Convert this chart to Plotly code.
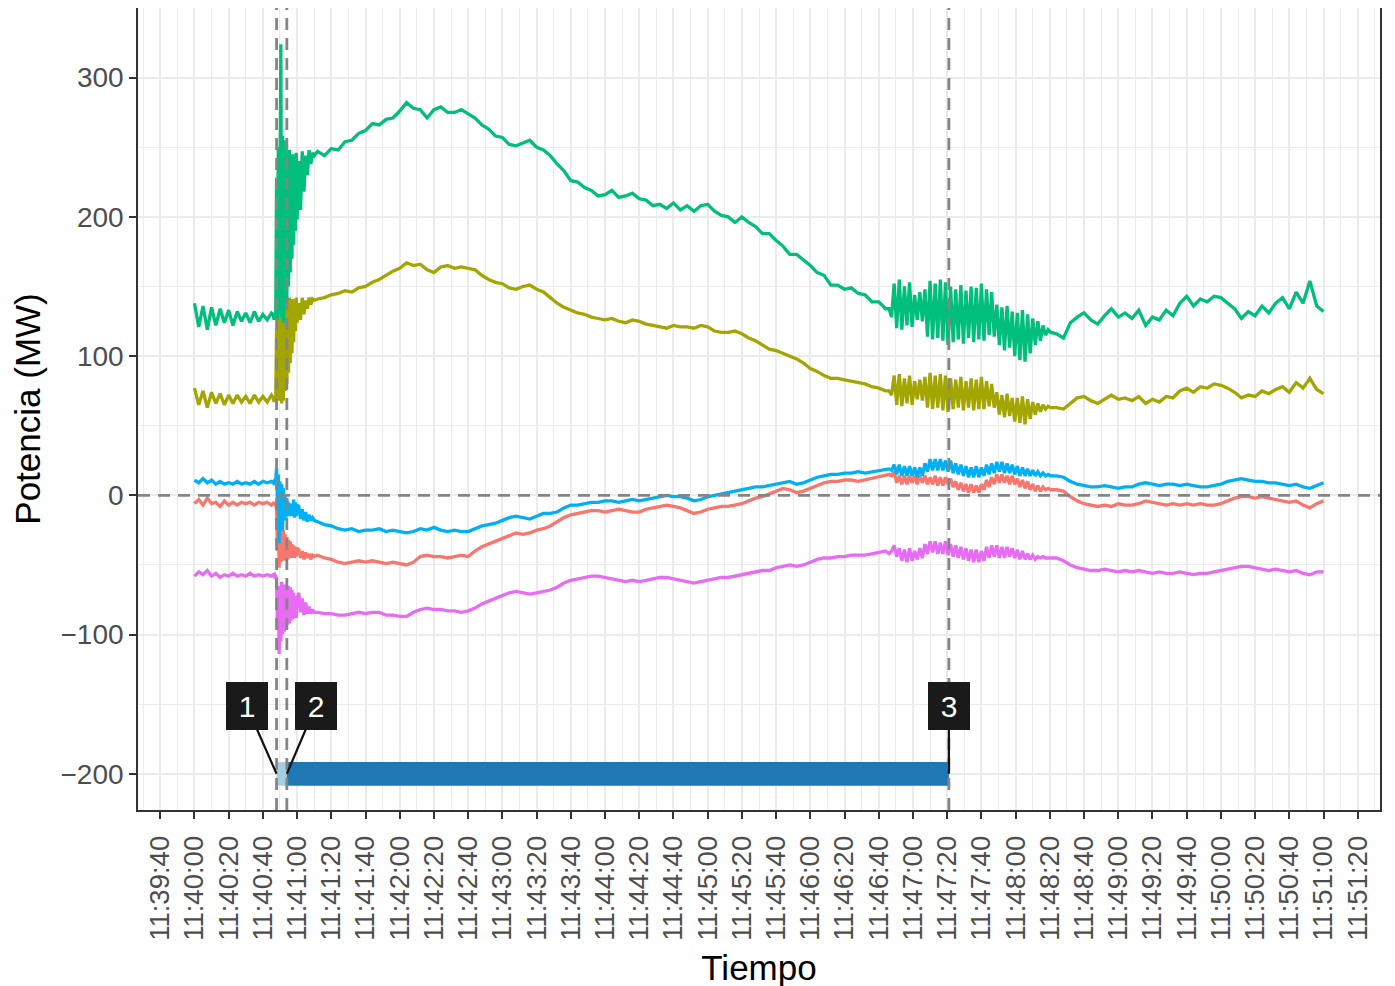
import numpy as np
import pandas as pd
import plotly.graph_objects as go

# ---------------- data ----------------
BASE = pd.Timestamp("2021-01-01 11:40:00")

# sampling times (seconds after 11:40:00), one block per segment of the record
t_a = np.arange(0, 45.01, 2.5)      # 19 pre-event
t_b = np.arange(46, 60.01, 0.5)     # 29 event
t_c = np.arange(61, 70.01, 1.0)     # 10
t_d = np.arange(72, 404.01, 4.0)    # 84
t_e = np.arange(406, 501, 1.5)      # 64 oscillation window
t_f = np.arange(504, 660.01, 4.0)   # 40

green = (
    [138, 121, 136, 119, 135, 122, 134, 124, 133, 122, 132, 125, 131, 124, 132, 125, 130, 126, 131]
    + [130, 126, 131, 127, 228, 126, 250, 130, 240, 324, 128, 258, 124, 255, 135, 250, 140, 245, 150, 248,
       160, 244, 170, 245, 180, 242, 190, 246, 198]
    + [240, 205, 247, 218, 244, 230, 248, 238, 246, 244]
    + [247, 244, 249, 248, 254, 255, 260, 262, 267, 266, 270, 271,
       276, 282, 278, 277, 271, 277, 279, 275, 275, 277, 274, 271,
       266, 263, 258, 257, 252, 251, 253, 255, 250, 248, 244, 238,
       233, 226, 225, 221, 219, 215, 216, 219, 214, 215, 217, 213,
       212, 208, 209, 206, 210, 205, 208, 204, 208, 209, 204, 201,
       200, 196, 200, 196, 193, 188, 188, 183, 179, 173, 173, 169,
       165, 160, 158, 151, 151, 148, 149, 145, 144, 139, 139, 134]
    + [134, 128, 152, 120, 155, 119, 150, 122,
       153, 121, 144, 126, 146, 125, 148, 114,
       154, 112, 152, 113, 155, 111, 153, 108,
       150, 110, 148, 112, 151, 109, 147, 113,
       150, 110, 149, 112, 152, 111, 148, 115,
       146, 114, 137, 108, 135, 104, 136, 106,
       132, 100, 131, 97, 133, 96, 130, 102,
       127, 108, 125, 111, 122, 115, 119, 117]
    + [116, 113, 124, 128, 131, 126, 123, 129, 134, 128,
       131, 127, 133, 122, 128, 126, 133, 129, 138, 143,
       136, 141, 139, 143, 142, 138, 134, 127, 132, 129,
       136, 131, 138, 142, 134, 146, 138, 154, 136, 132]
)

olive = (
    [77, 65, 75, 63, 74, 66, 73, 65, 72, 66, 72, 67, 71, 66, 72, 67, 71, 67, 72]
    + [70, 67, 71, 68, 120, 70, 140, 68, 135, 145, 66, 142, 68, 140, 75, 143, 80, 140, 88, 142,
       95, 140, 102, 141, 110, 139, 118, 142, 124]
    + [138, 126, 142, 130, 140, 134, 142, 137, 141, 140]
    + [141, 142, 144, 145, 147, 146, 149, 150, 153, 155, 158, 161,
       163, 167, 165, 166, 162, 160, 164, 165, 163, 164, 163, 162,
       158, 155, 153, 152, 149, 148, 150, 151, 148, 146, 142, 138,
       135, 133, 131, 130, 128, 127, 126, 127, 125, 124, 126, 125,
       123, 122, 121, 120, 122, 121, 121, 120, 122, 121, 118, 117,
       117, 118, 116, 113, 111, 108, 105, 104, 102, 100, 98, 95,
       91, 89, 86, 84, 84, 83, 82, 81, 80, 78, 77, 75]
    + [75, 72, 86, 65, 87, 64, 84, 66,
       86, 65, 82, 69, 83, 68, 85, 63,
       88, 62, 86, 63, 87, 61, 86, 60,
       84, 62, 83, 63, 85, 61, 82, 63,
       84, 61, 83, 62, 85, 62, 82, 64,
       80, 63, 74, 58, 72, 56, 73, 57,
       70, 53, 70, 52, 71, 51, 69, 55,
       67, 58, 66, 60, 65, 62, 64, 63]
    + [63, 62, 66, 70, 71, 68, 66, 69, 72, 69,
       70, 68, 71, 66, 69, 67, 71, 70, 75, 77,
       74, 78, 77, 80, 79, 77, 74, 70, 72, 71,
       75, 73, 76, 78, 74, 81, 77, 84, 76, 73]
)

blue = (
    [11, 9, 12, 9, 11, 8, 10, 8, 9, 8, 10, 8, 9, 8, 10, 8, 10, 9, 10]
    + [9, 10, 9, 10, 20, -5, 15, -34, 10, -20, 8, -25, 5, -18, 0, -16, -2, -15, -5, -14,
       -6, -15, -8, -14, -3, -16, -5, -15, -7]
    + [-8, -17, -10, -18, -12, -19, -14, -18, -16, -18]
    + [-19, -21, -22, -24, -25, -24, -26, -25, -25, -24, -26, -25,
       -26, -27, -26, -24, -25, -23, -25, -26, -25, -26, -26, -24,
       -22, -21, -20, -18, -16, -15, -16, -17, -15, -13, -13, -12,
       -9, -7, -7, -6, -5, -5, -4, -4, -5, -4, -3, -4,
       -3, -2, -1, 0, -1, -1, -2, -4, -3, -1, 0, 1,
       2, 3, 4, 5, 6, 6, 7, 8, 9, 10, 8, 9,
       11, 13, 14, 15, 15, 16, 16, 17, 16, 17, 18, 19]
    + [19, 18, 22, 15, 22, 14, 21, 14,
       21, 14, 20, 13, 20, 14, 23, 17,
       26, 18, 26, 18, 26, 18, 25, 17,
       25, 16, 23, 15, 22, 14, 21, 13,
       20, 13, 21, 13, 20, 14, 22, 15,
       23, 16, 24, 17, 24, 16, 23, 16,
       22, 15, 21, 14, 20, 14, 19, 14,
       18, 14, 17, 14, 16, 14, 15, 14]
    + [14, 13, 10, 8, 7, 6, 6, 7, 6, 5,
       6, 6, 8, 9, 8, 7, 8, 8, 7, 8,
       7, 6, 6, 7, 8, 10, 11, 12, 11, 10,
       10, 9, 9, 8, 7, 8, 6, 5, 7, 9]
)

red = (
    [-6, -3, -7, -2, -6, -5, -8, -4, -7, -5, -7, -5, -6, -5, -7, -5, -6, -5, -7]
    + [-6, -5, -7, -6, -10, -40, -15, -52, -20, -48, -22, -45, -25, -47, -28, -44, -30, -46, -32, -44,
       -33, -45, -35, -44, -36, -45, -37, -44, -38]
    + [-39, -45, -40, -46, -41, -45, -42, -46, -43, -44]
    + [-43, -45, -46, -48, -49, -48, -47, -48, -47, -48, -49, -48,
       -49, -50, -48, -44, -43, -44, -44, -45, -44, -43, -44, -40,
       -37, -35, -33, -31, -29, -27, -28, -27, -25, -24, -22, -19,
       -16, -14, -13, -12, -11, -11, -12, -11, -10, -11, -12, -12,
       -10, -9, -8, -7, -8, -9, -11, -13, -12, -10, -9, -8,
       -8, -7, -6, -4, -2, -1, 1, 3, 5, 4, 2, 3,
       5, 7, 9, 10, 10, 11, 11, 10, 11, 12, 13, 14]
    + [15, 14, 17, 9, 14, 8, 14, 8,
       14, 9, 14, 8, 14, 9, 14, 8,
       13, 8, 14, 7, 13, 7, 13, 8,
       12, 6, 10, 4, 9, 3, 8, 2,
       8, 2, 7, 2, 8, 4, 11, 6,
       13, 8, 15, 9, 15, 9, 14, 8,
       14, 8, 12, 6, 11, 5, 10, 4,
       8, 3, 7, 3, 6, 4, 5, 4]
    + [4, 3, -1, -4, -6, -7, -8, -7, -8, -6,
       -7, -7, -6, -4, -5, -6, -7, -6, -7, -6,
       -7, -6, -7, -7, -6, -4, -2, -1, -1, -2,
       -1, -2, -3, -4, -5, -4, -7, -9, -6, -4]
)

pink = (
    [-58, -55, -57, -54, -58, -56, -59, -57, -58, -56, -58, -57, -58, -56, -58, -57, -58, -57, -58]
    + [-57, -58, -57, -58, -60, -95, -65, -114, -70, -105, -62, -100, -66, -98, -64, -95, -66, -93, -65, -92,
       -66, -90, -68, -89, -70, -88, -72, -88, -74]
    + [-70, -84, -74, -86, -77, -85, -80, -85, -82, -84]
    + [-84, -85, -85, -86, -86, -85, -84, -85, -84, -84, -86, -86,
       -87, -87, -84, -82, -81, -82, -82, -83, -83, -84, -83, -81,
       -78, -76, -74, -72, -70, -69, -70, -71, -70, -69, -68, -66,
       -63, -61, -60, -59, -58, -58, -59, -60, -61, -62, -61, -62,
       -61, -60, -59, -59, -60, -61, -62, -63, -62, -61, -60, -59,
       -59, -58, -57, -56, -55, -54, -54, -52, -51, -50, -51, -50,
       -48, -46, -45, -45, -44, -44, -43, -43, -43, -42, -41, -40]
    + [-42, -40, -36, -44, -38, -47, -39, -48,
       -38, -47, -40, -46, -38, -45, -35, -42,
       -33, -41, -33, -42, -34, -42, -33, -43,
       -35, -44, -36, -45, -37, -46, -38, -47,
       -39, -48, -39, -48, -40, -47, -37, -45,
       -36, -44, -36, -45, -37, -45, -37, -44,
       -38, -45, -39, -46, -40, -46, -42, -46,
       -43, -46, -44, -45, -44, -45, -45, -45]
    + [-45, -47, -50, -52, -53, -54, -54, -53, -54, -55,
       -54, -55, -54, -55, -56, -55, -56, -56, -55, -56,
       -57, -56, -56, -55, -54, -53, -52, -51, -51, -52,
       -53, -54, -53, -54, -55, -54, -56, -57, -55, -55]
)

series_names = ["P1", "P2", "P3", "P4", "P5"]
series_values = [red, olive, green, blue, pink]
series_colors = ["#F8766D", "#A3A500", "#00BF7D", "#00B0F6", "#E76BF3"]

event_seconds = [48, 54, 441]
event_labels = ["1", "2", "3"]
event_label_offsets = [(-30, -68), (29, -68), (0, -68)]
phase_colors = ["#A6CEE3", "#1F78B4"]
bar_level = -200
bar_half = 8.5

y_ticks = [-200, -100, 0, 100, 200, 300]

# ---------------- figure ----------------
seconds = np.concatenate([t_a, t_b, t_c, t_d, t_e, t_f])
times = BASE + pd.to_timedelta(seconds, unit="s")
for v in series_values:
    assert len(v) == len(seconds), (len(v), len(seconds))

fig = go.Figure()
for name, vals, col in zip(series_names, series_values, series_colors):
    fig.add_trace(go.Scatter(x=times, y=vals, mode="lines", name=name,
                             line=dict(color=col, width=3.3), showlegend=False))

ev_times = [BASE + pd.Timedelta(seconds=s) for s in event_seconds]
DASH = dict(color="#858585", width=2.8, dash="12px,8px")
shapes = []
# phase bar
for i in range(len(ev_times) - 1):
    shapes.append(dict(type="rect", xref="x", yref="y", x0=ev_times[i], x1=ev_times[i + 1],
                       y0=bar_level - bar_half, y1=bar_level + bar_half,
                       fillcolor=phase_colors[min(i, len(phase_colors) - 1)], line=dict(width=0),
                       layer="above"))
# dashed reference lines
for et in ev_times:
    shapes.append(dict(type="line", xref="x", yref="paper", x0=et, x1=et, y0=0, y1=1,
                       line=DASH, layer="above"))
shapes.append(dict(type="line", xref="paper", yref="y", x0=0, x1=1, y0=0, y1=0,
                   line=DASH, layer="above"))

annotations = []
for et, lab, (ax, ay) in zip(ev_times, event_labels, event_label_offsets):
    annotations.append(dict(x=et, y=bar_level, xref="x", yref="y", text=lab, showarrow=True,
                            ax=ax, ay=ay, arrowhead=0, arrowwidth=2.2, arrowcolor="#111111",
                            bgcolor="#1A1A1A", borderpad=2, borderwidth=0, width=38, height=44,
                            font=dict(color="white", size=30, family="Liberation Sans, Arial"),
                            standoff=0))

grid = "#EBEBEB"
fig.update_layout(
    width=1395, height=986,
    margin=dict(l=130, r=23, t=0, b=184, autoexpand=False),
    paper_bgcolor="white", plot_bgcolor="white",
    font=dict(family="Liberation Sans, Arial, sans-serif", color="#4D4D4D"),
    shapes=shapes, annotations=annotations,
    xaxis=dict(
        type="date", automargin=False,
        range=[BASE - pd.Timedelta(seconds=33), BASE + pd.Timedelta(seconds=693)],
        tick0=BASE - pd.Timedelta(seconds=20), dtick=20000, tickformat="%H:%M:%S",
        tickangle=-90, tickfont=dict(size=27.5, color="#4D4D4D"), ticklabelstandoff=6,
        ticks="outside", ticklen=7, tickwidth=1.6, tickcolor="#333333",
        showgrid=True, gridcolor=grid, gridwidth=2,
        minor=dict(dtick=10000, tick0=BASE - pd.Timedelta(seconds=30), showgrid=True,
                   gridcolor=grid, gridwidth=1, ticklen=0),
        showline=True, linecolor="#333333", linewidth=1.6, mirror=True, zeroline=False,
        title=dict(text="Tiempo", font=dict(size=35, color="black"), standoff=16),
    ),
    yaxis=dict(
        automargin=False,
        range=[-226, 350], tickvals=y_ticks, tickfont=dict(size=28, color="#4D4D4D"),
        ticks="outside", ticklen=7, tickwidth=1.6, tickcolor="#333333",
        showgrid=True, gridcolor=grid, gridwidth=2,
        minor=dict(dtick=50, tick0=0, showgrid=True, gridcolor=grid, gridwidth=1, ticklen=0),
        showline=True, linecolor="#333333", linewidth=1.6, mirror=True, zeroline=False,
        title=dict(text="Potencia (MW)", font=dict(size=35, color="black"), standoff=10),
    ),
)

fig.write_html("out.html")
